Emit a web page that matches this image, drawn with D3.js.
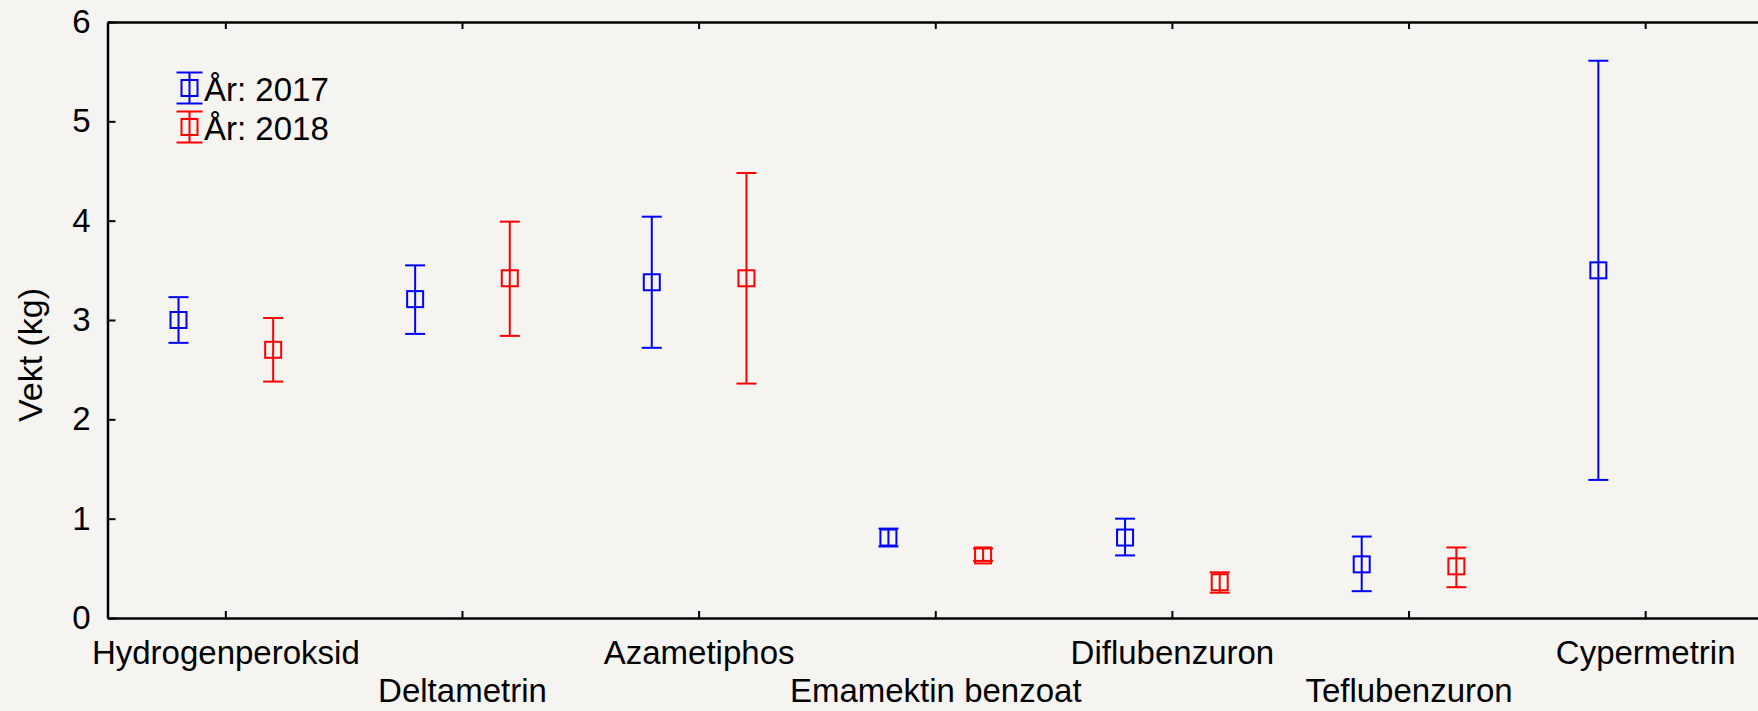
<!DOCTYPE html>
<html>
<head>
<meta charset="utf-8">
<script src="https://cdn.jsdelivr.net/npm/d3@7"></script>
<style>
  body { margin: 0; background: #f5f4f0; }
  svg { display: block; font-family: "Liberation Sans", Arial, sans-serif; }
</style>
</head>
<body>
<svg id="chart" width="1758" height="711"></svg>
<script>
// categories on the x axis
const categories = ["Hydrogenperoksid", "Deltametrin", "Azametiphos", "Emamektin benzoat", "Diflubenzuron", "Teflubenzuron", "Cypermetrin"]
const yTicks = [0, 1, 2, 3, 4, 5, 6]

// mean and confidence limits, per year
const mean2017 = [3.00, 3.21, 3.38, 0.81, 0.81, 0.54, 3.50]
const low2017  = [2.77, 2.86, 2.72, 0.72, 0.63, 0.27, 1.39]
const high2017 = [3.23, 3.55, 4.04, 0.90, 1.00, 0.82, 5.61]

const mean2018 = [2.70, 3.42, 3.42, 0.63, 0.36, 0.52, null]
const low2018  = [2.38, 2.84, 2.36, 0.575, 0.255, 0.31, null]
const high2018 = [3.02, 3.99, 4.48, 0.70, 0.46, 0.71, null]

const series = [
  {name: "År: 2017", color: "#0000ff", offset: -0.2, mean: mean2017, low: low2017, high: high2017},
  {name: "År: 2018", color: "#ff0000", offset: 0.2, mean: mean2018, low: low2018, high: high2018}
]

const MARGIN = {left: 107.5, top: 22, bottom: 618}
const svg = d3.select("#chart")

const x = d3.scaleBand().domain(categories).range([MARGIN.left, 1764]).padding(0)
const y = d3.scaleLinear().domain([0, 6]).range([MARGIN.bottom, MARGIN.top])
const bw = x.bandwidth()
const cx = c => x(c) + bw / 2

// axes
const gx = svg.append("g").attr("transform", `translate(0, ${MARGIN.bottom})`)
  .call(d3.axisBottom(x).tickSizeInner(-7).tickSizeOuter(0).tickPadding(0))
gx.selectAll("text")
  .attr("y", (d, i) => i % 2 ? 84 : 46)
  .attr("dy", 0)
  .style("font-size", "33px").attr("fill", "#000")

svg.append("g").attr("transform", `translate(0, ${MARGIN.top})`)
  .call(d3.axisTop(x).tickSizeInner(-7).tickSizeOuter(0).tickFormat(""))

svg.append("g").attr("transform", `translate(${MARGIN.left}, 0)`)
  .call(d3.axisLeft(y).tickValues(yTicks).tickFormat(d3.format("d"))
    .tickSizeInner(-8).tickSizeOuter(0).tickPadding(17))
  .selectAll("text").style("font-size", "33px").attr("fill", "#000")

svg.selectAll(".domain").attr("stroke", "#000").attr("stroke-width", 2.5)
svg.selectAll(".tick line").attr("stroke", "#000").attr("stroke-width", 2)

svg.append("text")
  .attr("transform", "translate(42, 355) rotate(-90)")
  .attr("text-anchor", "middle")
  .style("font-size", "34px")
  .text("Vekt (kg)")

// error bars
const CAP = 10, BOX = 8
series.forEach(s => {
  const pts = categories.map((c, i) => ({c, m: s.mean[i], lo: s.low[i], hi: s.high[i]}))
    .filter(d => d.m != null)
  const g = svg.append("g").attr("stroke", s.color).attr("stroke-width", 2).attr("fill", "none")
  const px = d => cx(d.c) + s.offset * bw
  g.selectAll(".whisker").data(pts).join("line")
    .attr("x1", px).attr("x2", px)
    .attr("y1", d => y(d.lo)).attr("y2", d => y(d.hi))
  g.selectAll(".capHi").data(pts).join("line")
    .attr("x1", d => px(d) - CAP).attr("x2", d => px(d) + CAP)
    .attr("y1", d => y(d.hi)).attr("y2", d => y(d.hi))
  g.selectAll(".capLo").data(pts).join("line")
    .attr("x1", d => px(d) - CAP).attr("x2", d => px(d) + CAP)
    .attr("y1", d => y(d.lo)).attr("y2", d => y(d.lo))
  g.selectAll("rect").data(pts).join("rect")
    .attr("x", d => px(d) - BOX).attr("y", d => y(d.m) - BOX)
    .attr("width", BOX * 2).attr("height", BOX * 2)
})

// legend
const legend = svg.append("g")
series.forEach((s, i) => {
  const ly = 88 + i * 39, lx = 189.5
  const g = legend.append("g").attr("stroke", s.color).attr("stroke-width", 2).attr("fill", "none")
  g.append("line").attr("x1", lx).attr("x2", lx).attr("y1", ly - 15.5).attr("y2", ly + 15.5)
  g.append("line").attr("x1", lx - 13).attr("x2", lx + 13).attr("y1", ly - 15.5).attr("y2", ly - 15.5)
  g.append("line").attr("x1", lx - 13).attr("x2", lx + 13).attr("y1", ly + 15.5).attr("y2", ly + 15.5)
  g.append("rect").attr("x", lx - 8).attr("y", ly - 8).attr("width", 16).attr("height", 16)
  legend.append("text").attr("x", 204).attr("y", ly + 12.5)
    .style("font-size", "33px").text(s.name)
})
</script>
</body>
</html>
